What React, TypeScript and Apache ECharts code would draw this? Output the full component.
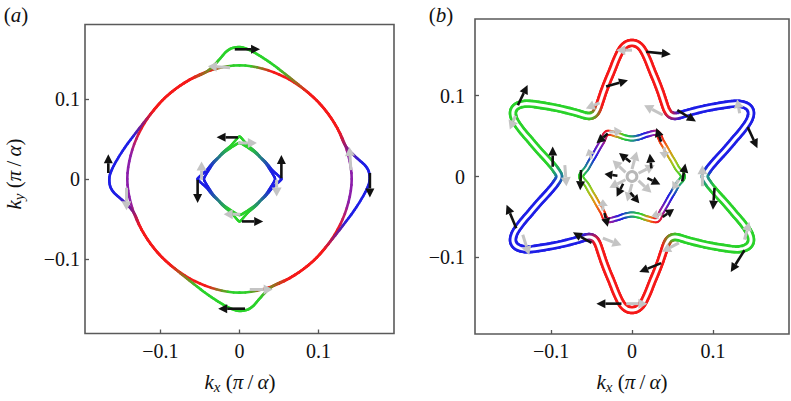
import React, { useEffect, useRef } from "react";
import * as echarts from "echarts";

type P2 = [number, number];
type Arrow = [number, number, number, number];

// ---------------- data: shared ----------------
const tickValues = [-0.1, 0, 0.1];

// ---------------- data: panel (a) ----------------
// one 90° sector of each contour, [angle in degrees, |k|], repeated every 90° (C4)
const aLobedSector: P2[] = [
  [-45, 0.1385], [-34, 0.139], [-28, 0.141], [-22, 0.1445], [-16, 0.1495], [-10, 0.1555],
  [-5, 0.161], [-1, 0.1645], [3, 0.164], [6, 0.16], [9, 0.153], [12, 0.147], [15, 0.1425],
  [19, 0.1395], [27, 0.139], [36, 0.1385],
];
const aRoundSector: P2[] = [
  [-45, 0.1385], [-30, 0.139], [-15, 0.1405], [0, 0.142], [15, 0.1405], [30, 0.139],
];
const aPocketOuterSector: P2[] = [
  [-45, 0.038], [-35, 0.039], [-25, 0.0405], [-15, 0.043], [-8, 0.047], [-3, 0.051],
  [0, 0.053], [3, 0.051], [8, 0.047], [15, 0.043], [25, 0.0405], [35, 0.039],
];
const aPocketInnerSector: P2[] = [
  [-45, 0.0375], [-30, 0.0385], [-18, 0.04], [-10, 0.042], [-4, 0.044], [0, 0.045],
  [4, 0.044], [10, 0.042], [18, 0.04], [30, 0.0385],
];
// arrows: [tail kx, tail ky, tip kx, tip ky]
const aBlackArrows: Arrow[] = [
  [-0.006, 0.162, 0.026, 0.162],
  [0.007, -0.162, -0.027, -0.162],
  [-0.166, 0.0075, -0.166, 0.031],
  [0.165, 0.0075, 0.165, -0.023],
  [-0.002, 0.052, -0.029, 0.052],
  [0.053, 0.001, 0.053, 0.03],
  [-0.053, -0.001, -0.053, -0.03],
  [0.003, -0.053, 0.03, -0.053],
];
const aGrayArrows: Arrow[] = [
  [-0.012, 0.139, -0.04, 0.141],
  [0.013, -0.138, 0.042, -0.138],
  [0.141, 0.011, 0.139, 0.04],
  [-0.143, -0.011, -0.143, -0.039],
  [-0.002, 0.045, 0.022, 0.045],
  [0.047, -0.001, 0.047, -0.022],
  [-0.048, -0.001, -0.048, 0.022],
  [0.001, -0.044, -0.02, -0.044],
];

// ---------------- data: panel (b) ----------------
// first quadrant of the outer star contour [kx, ky], mirrored in both axes
const bOuterQuadrant: P2[] = [
  [0.09, 0.0], [0.094, 0.008], [0.102, 0.018], [0.113, 0.03], [0.126, 0.045],
  [0.137, 0.058], [0.145, 0.07], [0.147, 0.08], [0.142, 0.087], [0.13, 0.09],
  [0.112, 0.088], [0.09, 0.084], [0.07, 0.079], [0.056, 0.075], [0.048, 0.076],
  [0.043, 0.082], [0.039, 0.093], [0.035, 0.105], [0.03, 0.118], [0.025, 0.13],
  [0.019, 0.145], [0.013, 0.157], [0.007, 0.163], [0.0, 0.165],
];
// first quadrant of the inner hexagonal contour, [angle in degrees, |k|]
const bHexQuadrant: P2[] = [
  [0, 0.063], [10, 0.057], [20, 0.0545], [30, 0.0535], [40, 0.0545], [50, 0.057],
  [60, 0.062], [70, 0.055], [80, 0.049], [90, 0.047],
];
const bRingRadius = 0.006;
const bBlackArrows: Arrow[] = [
  [0.0175, 0.154, 0.048, 0.151],
  [-0.032, 0.111, -0.005, 0.119],
  [0.056, 0.082, 0.079, 0.068],
  [-0.141, 0.088, -0.129, 0.113],
  [0.143, 0.061, 0.155, 0.035],
  [-0.098, 0.012, -0.098, 0.037],
  [-0.143, -0.064, -0.155, -0.035],
  [-0.05, -0.082, -0.073, -0.069],
  [0.036, -0.107, 0.009, -0.118],
  [-0.013, -0.157, -0.044, -0.157],
  [0.139, -0.091, 0.122, -0.118],
  [0.102, -0.014, 0.1, -0.041],
  [-0.03, 0.053, -0.044, 0.041],
  [0.036, 0.043, 0.03, 0.06],
  [0.062, -0.006, 0.066, 0.016],
  [0.038, -0.05, 0.052, -0.04],
  [-0.034, -0.045, -0.03, -0.062],
  [-0.063, 0.008, -0.064, -0.017],
  [-0.002, 0.018, -0.016, 0.029],
  [0.024, 0.01, 0.022, 0.028],
  [-0.018, 0.001, -0.034, 0.003],
  [-0.011, -0.009, -0.019, -0.025],
  [-0.002, -0.02, 0.009, -0.033],
  [0.019, -0.002, 0.035, -0.01],
];
const bGrayArrows: Arrow[] = [
  [0.0, 0.156, -0.0195, 0.156],
  [-0.04, 0.091, -0.057, 0.084],
  [0.038, 0.076, 0.015, 0.088],
  [0.133, 0.078, 0.13, 0.095],
  [-0.144, 0.075, -0.151, 0.058],
  [-0.083, 0.014, -0.081, -0.012],
  [0.087, -0.012, 0.087, 0.014],
  [-0.135, -0.072, -0.127, -0.097],
  [-0.036, -0.076, -0.013, -0.085],
  [0.058, -0.082, 0.037, -0.093],
  [-0.007, -0.157, 0.019, -0.157],
  [0.139, -0.078, 0.145, -0.056],
  [-0.028, 0.055, -0.012, 0.056],
  [0.04, 0.036, 0.04, 0.022],
  [0.058, -0.004, 0.05, -0.016],
  [0.037, -0.046, 0.024, -0.049],
  [-0.036, -0.042, -0.036, -0.028],
  [-0.05, 0.022, -0.054, 0.034],
  [0.0, 0.009, 0.006, 0.031],
  [0.008, 0.004, 0.028, 0.014],
  [0.008, -0.005, 0.024, -0.02],
  [0.0, -0.009, -0.006, -0.031],
  [-0.008, -0.004, -0.028, -0.014],
  [-0.008, 0.005, -0.024, 0.02],
];

// ---------------- styles ----------------
const SERIF = "Liberation Serif";
const R = "#f51919", G = "#2ad22a", B = "#1e1ee6", PU = "#8c1eaa", T = "#1e8c8c", O = "#e88c14", Y = "#a0c81e";
type Stop = [number, string];
const aLobedColors: Stop[] = [[0, B], [8, B], [26, R], [52, R], [72, G], [100, G], [116, R], [142, R], [160, B], [188, B], [206, R], [232, R], [250, G], [280, G], [296, R], [320, R], [340, B], [360, B]];
const aRoundColors: Stop[] = [[0, PU], [12, PU], [28, R], [74, R], [86, G], [94, G], [106, R], [152, R], [168, PU], [192, PU], [208, R], [254, R], [266, G], [274, G], [286, R], [332, R], [348, PU], [360, PU]];
const aPocketColors: Stop[] = [[0, B], [15, B], [75, G], [105, G], [165, B], [195, B], [255, G], [285, G], [345, B], [360, B]];
const bOuterColors: Stop[] = [[0, T], [8, B], [52, B], [64, R], [116, R], [128, G], [172, G], [180, T], [188, B], [232, B], [244, R], [296, R], [308, G], [352, G], [360, T]];
const bHexColors: Stop[] = [[0, G], [20, Y], [40, O], [58, R], [66, PU], [76, B], [90, T], [104, G], [114, O], [120, R], [135, PU], [155, B], [172, T], [180, G], [200, Y], [220, O], [238, R], [246, PU], [256, B], [270, T], [284, G], [294, O], [300, R], [315, PU], [335, B], [352, T], [360, G]];

// ---------------- helpers ----------------
function fromSectors(sector: P2[]): P2[] {
  const out: P2[] = [];
  for (let k = 0; k < 4; k++) {
    for (const [d, r] of sector) {
      const a = ((d + 90 * k) * Math.PI) / 180;
      out.push([r * Math.cos(a), r * Math.sin(a)]);
    }
  }
  return out;
}
function mirrorQuadrant(q: P2[]): P2[] {
  const rev = q.slice().reverse();
  const q2 = rev.slice(1).map(([x, y]) => [-x, y] as P2);
  const q3 = q.slice(1).map(([x, y]) => [-x, -y] as P2);
  const q4 = rev.slice(1, rev.length - 1).map(([x, y]) => [x, -y] as P2);
  return [...q, ...q2, ...q3, ...q4];
}
function polarToXY(q: P2[]): P2[] {
  return q.map(([d, r]) => [r * Math.cos((d * Math.PI) / 180), r * Math.sin((d * Math.PI) / 180)] as P2);
}
function hexToRgb(h: string) {
  return [parseInt(h.slice(1, 3), 16), parseInt(h.slice(3, 5), 16), parseInt(h.slice(5, 7), 16)];
}
function colorAt(stops: Stop[], deg: number) {
  const d = ((deg % 360) + 360) % 360;
  for (let i = 0; i < stops.length - 1; i++) {
    const [d0, c0] = stops[i];
    const [d1, c1] = stops[i + 1];
    if (d >= d0 && d <= d1) {
      const t = d1 === d0 ? 0 : (d - d0) / (d1 - d0);
      const a = hexToRgb(c0), b = hexToRgb(c1);
      const m = a.map((v, j) => Math.round(v + (b[j] - v) * t));
      return `rgb(${m[0]},${m[1]},${m[2]})`;
    }
  }
  return stops[0][1];
}

function curveRenderer(pts: P2[], stops: Stop[], width: number, white: number) {
  return (_params: any, api: any) => {
    const c = api.coord([0, 0]);
    const px = pts.map((p) => api.coord(p));
    const n = px.length;
    const sub = 5;
    const dense: number[][] = [];
    for (let i = 0; i < n; i++) {
      const p0 = px[(i - 1 + n) % n], p1 = px[i], p2 = px[(i + 1) % n], p3 = px[(i + 2) % n];
      for (let s = 0; s < sub; s++) {
        const t = s / sub, t2 = t * t, t3 = t2 * t;
        const f = (k: number) =>
          0.5 * (2 * p1[k] + (-p0[k] + p2[k]) * t + (2 * p0[k] - 5 * p1[k] + 4 * p2[k] - p3[k]) * t2 + (-p0[k] + 3 * p1[k] - 3 * p2[k] + p3[k]) * t3);
        dense.push([f(0), f(1)]);
      }
    }
    dense.push(dense[0]);
    const children: any[] = [];
    for (let i = 0; i < dense.length - 1; i++) {
      const a = dense[i], b = dense[i + 1];
      const mx = (a[0] + b[0]) / 2, my = (a[1] + b[1]) / 2;
      const deg = (Math.atan2(c[1] - my, mx - c[0]) * 180) / Math.PI;
      children.push({
        type: "line",
        shape: { x1: a[0], y1: a[1], x2: b[0], y2: b[1] },
        style: { stroke: colorAt(stops, deg), lineWidth: width, lineCap: "round" },
      });
    }
    if (white > 0) {
      children.push({
        type: "polyline",
        shape: { points: dense },
        style: { stroke: "#ffffff", lineWidth: white, fill: "none", lineJoin: "round" },
      });
    }
    return { type: "group", children };
  };
}

function arrowRenderer(color: string, shaft: number, headLen: number, headHalf: number) {
  return (_params: any, api: any) => {
    const a = api.coord([api.value(0), api.value(1)]);
    const b = api.coord([api.value(2), api.value(3)]);
    const dx = b[0] - a[0], dy = b[1] - a[1];
    const len = Math.hypot(dx, dy) || 1;
    const ux = dx / len, uy = dy / len;
    const hl = Math.min(headLen, len * 0.6);
    const bx = b[0] - ux * hl, by = b[1] - uy * hl;
    const nx = -uy, ny = ux;
    return {
      type: "group",
      children: [
        { type: "line", shape: { x1: a[0], y1: a[1], x2: bx, y2: by }, style: { stroke: color, lineWidth: shaft } },
        {
          type: "polygon",
          shape: { points: [[b[0], b[1]], [bx + nx * headHalf, by + ny * headHalf], [bx - nx * headHalf, by - ny * headHalf]] },
          style: { fill: color },
        },
      ],
    };
  };
}

const fmt = (v: number) => (v === 0 ? "0" : v < 0 ? "\u2212" + Math.abs(v) : String(v));

function axisDef(idx: number, range: number, labelMargin: number) {
  return {
    gridIndex: idx,
    type: "value",
    min: -range,
    max: range,
    axisLine: { show: false, onZero: false },
    splitLine: { show: false },
    axisTick: { show: true, inside: true, length: 4, customValues: tickValues, lineStyle: { color: "#555", width: 1.3 } },
    axisLabel: { customValues: tickValues, formatter: fmt, fontFamily: SERIF, fontSize: 20, color: "#111", margin: labelMargin },
  };
}

const nameRich = {
  k: { fontStyle: "italic", fontSize: 21, lineHeight: 24, fontFamily: SERIF, fill: "#111", color: "#111" },
  s: { fontStyle: "italic", fontSize: 15, lineHeight: 14, verticalAlign: "bottom", fontFamily: SERIF, fill: "#111", color: "#111" },
  i: { fontStyle: "italic", fontSize: 21, lineHeight: 24, fontFamily: SERIF, fill: "#111", color: "#111" },
};
function textEl(x: number, y: number, text: string, size: number, rotation = 0) {
  return {
    type: "text",
    x,
    y,
    rotation,
    style: {
      text,
      fontFamily: SERIF,
      fontSize: size,
      lineHeight: 24,
      fill: "#111",
      align: "center",
      textAlign: "center",
      verticalAlign: "middle",
      textVerticalAlign: "middle",
      rich: nameRich,
    },
  };
}

function curveSeries(pts: P2[], stops: Stop[], w: number, white: number, ax: number) {
  return {
    type: "custom",
    coordinateSystem: "cartesian2d",
    xAxisIndex: ax,
    yAxisIndex: ax,
    data: [[0, 0]],
    silent: true,
    clip: false,
    renderItem: curveRenderer(pts, stops, w, white),
  };
}
function arrowSeries(data: Arrow[], color: string, shaft: number, hl: number, hh: number, ax: number) {
  return {
    type: "custom",
    coordinateSystem: "cartesian2d",
    xAxisIndex: ax,
    yAxisIndex: ax,
    data,
    encode: { x: [0, 2], y: [1, 3] },
    silent: true,
    clip: false,
    renderItem: arrowRenderer(color, shaft, hl, hh),
  };
}

const AXIS_NAME_X = "{k|k}{s|x} ({i|π}\u2009/\u2009{i|α})";
const AXIS_NAME_Y = "{k|k}{s|y} ({i|π}\u2009/\u2009{i|α})";

export default function App() {
  const ref = useRef<HTMLDivElement>(null);
  useEffect(() => {
    if (!ref.current) return;
    const chart = echarts.init(ref.current, undefined, { renderer: "svg", width: 791, height: 401 });
    const aLobed = fromSectors(aLobedSector);
    const aRound = fromSectors(aRoundSector);
    const aPo = fromSectors(aPocketOuterSector);
    const aPi = fromSectors(aPocketInnerSector);
    const bOuter = mirrorQuadrant(bOuterQuadrant);
    const bHex = mirrorQuadrant(polarToXY(bHexQuadrant));

    const option: any = {
      animation: false,
      backgroundColor: "#ffffff",
      grid: [
        { left: 85, top: 24.5, width: 309, height: 309, show: true, borderColor: "#5a5a5a", borderWidth: 1.6 },
        { left: 475, top: 19, width: 314, height: 315, show: true, borderColor: "#5a5a5a", borderWidth: 1.6 },
      ],
      xAxis: [axisDef(0, 0.1955, 7), axisDef(1, 0.194, 7)],
      yAxis: [axisDef(0, 0.193, 5), axisDef(1, 0.1945, 10)],
      graphic: [
        textEl(16, 15, "({i|a})", 21),
        textEl(441, 15, "({i|b})", 21),
        textEl(240, 382, AXIS_NAME_X, 21),
        textEl(632, 382, AXIS_NAME_X, 21),
        textEl(14, 174, AXIS_NAME_Y, 21, Math.PI / 2),
      ],
      series: [
        curveSeries(aRound, aRoundColors, 2.6, 0, 0),
        curveSeries(aLobed, aLobedColors, 2.6, 0, 0),
        curveSeries(aPo, aPocketColors, 2.4, 0, 0),
        curveSeries(aPi, aPocketColors, 2.4, 0, 0),
        arrowSeries(aGrayArrows, "#c4c4c4", 3, 9, 5, 0),
        arrowSeries(aBlackArrows, "#111111", 2.6, 9, 4.5, 0),
        curveSeries(bOuter, bOuterColors, 8.4, 3, 1),
        curveSeries(bHex, bHexColors, 6, 2, 1),
        arrowSeries(bGrayArrows, "#c4c4c4", 3, 9, 5, 1),
        {
          type: "custom",
          coordinateSystem: "cartesian2d",
          xAxisIndex: 1,
          yAxisIndex: 1,
          data: [[0, 0]],
          silent: true,
          clip: false,
          renderItem: (_p: any, api: any) => {
            const c = api.coord([0, 0]);
            const r = api.size([bRingRadius, 0])[0];
            return { type: "circle", shape: { cx: c[0], cy: c[1], r }, style: { fill: "#ffffff", stroke: "#b8b8b8", lineWidth: 3 } };
          },
        },
        arrowSeries(bBlackArrows, "#111111", 2.6, 9, 4.5, 1),
      ],
    };
    chart.setOption(option);
    return () => chart.dispose();
  }, []);
  return <div ref={ref} style={{ position: "fixed", left: 0, top: 0, width: 791, height: 401, background: "#fff" }} />;
}
